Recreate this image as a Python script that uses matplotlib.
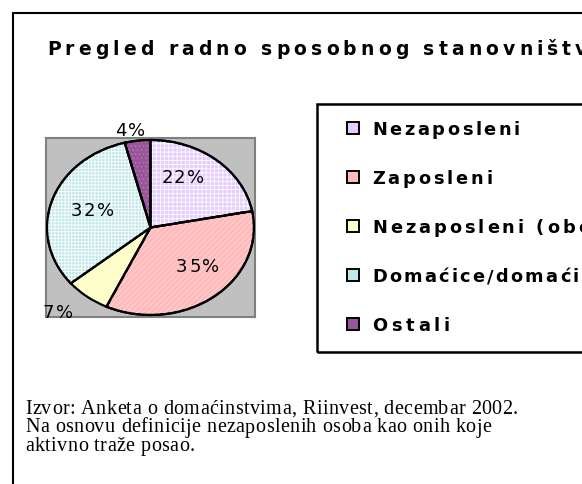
import numpy as np
import matplotlib
matplotlib.use('Agg')
from matplotlib import pyplot as plt
from matplotlib.patches import Rectangle, Wedge
from matplotlib.font_manager import FontProperties, findfont, get_font

W, H, DPI = 582, 485, 100
plt.rcParams['hatch.linewidth'] = 0.6

title = "Pregled radno sposobnog stanovništva"
labels = ["Nezaposleni", "Zaposleni", "Nezaposleni (obeshrabreni)",
          "Domaćice/domaćini", "Ostali"]
shares = [22, 35, 7, 32, 4]
pct_labels = ["22%", "35%", "7%", "32%", "4%"]
footer = ["Izvor: Anketa o domaćinstvima, Riinvest, decembar 2002.",
          "Na osnovu definicije nezaposlenih osoba kao onih koje",
          "aktivno traže posao."]

colors = ['#E6CCFF', '#FFBBBB', '#FFFFCC', '#BFE8E8', '#995599']
hatches = ['++++', '//////', None, '+++++', '....']
hatch_cols = ['white', '#FFD6D6', None, 'white', '#B57AB5']
label_r = [0.66, 0.63, 1.32, 0.6, 1.13]
label_shift = [11.5, 8.5, -5.0, -2.0, 2.7]   # degrees, label nudges

fig = plt.figure(figsize=(W / DPI, H / DPI), dpi=DPI)


def advances(s, prop, size):
    font = get_font(findfont(prop))
    font.set_size(size, DPI)
    return [font.load_char(ord(ch)).linearHoriAdvance / 65536 for ch in s]


def spaced_text(x, y, s, size, spacing, family, weight='normal', ha='left',
                va='baseline', fit=None):
    # x, y in pixels from top-left; draws char by char with extra tracking.
    # fit=(n, px): choose tracking so the first n chars take px pixels
    prop = FontProperties(family=family, weight=weight, size=size)
    adv = advances(s, prop, size)
    if fit is not None:
        n, px = fit
        spacing = (px - sum(adv[:n])) / n
    adv = [a + spacing for a in adv]
    total = sum(adv) - spacing
    pos = x - total / 2 if ha == 'center' else x
    for ch, a in zip(s, adv):
        if pos > W:
            break
        if ch != ' ':
            fig.text(pos / W, 1 - y / H, ch, fontproperties=prop, ha='left', va=va, color='black')
        pos += a


# outer frame (right and bottom edges fall outside the picture)
fig.add_artist(Rectangle((13 / W, -0.1), 2, 1 - 14 / H + 0.1, transform=fig.transFigure,
                         fill=False, edgecolor='black', lw=1.5))

spaced_text(47, 55, title, 13.5, 0, 'DejaVu Sans', weight='bold', fit=(24, 376))

# pie
ax = fig.add_axes([46 / W, 1 - 318 / H, 209 / W, 179 / H])
wedges, _ = ax.pie(shares, colors=colors, startangle=90, counterclock=False,
                   wedgeprops=dict(edgecolor='black', linewidth=1.6))
for w, h, hc in zip(wedges, hatches, hatch_cols):
    if h is None:
        continue
    ax.add_patch(Wedge(w.center, w.r, w.theta1, w.theta2, facecolor='none',
                       edgecolor=hc, lw=0, hatch=h, zorder=2))
    ax.add_patch(Wedge(w.center, w.r, w.theta1, w.theta2, facecolor='none',
                       edgecolor='black', lw=1.6, zorder=3))
ax.set_aspect('auto')
ax.set_xlim(-1.01, 1.01)
ax.set_ylim(-1.023, 1.023)
ax.set_frame_on(True)
ax.set_facecolor('#C0C0C0')
for sp in ax.spines.values():
    sp.set_color('#808080')
    sp.set_linewidth(1.5)

for w, lab, r, sh in zip(wedges, pct_labels, label_r, label_shift):
    mid = np.deg2rad((w.theta1 + w.theta2) / 2 + sh)
    px, py = ax.transData.transform((r * np.cos(mid), r * np.sin(mid)))
    spaced_text(px, H - py, lab, 13, 1.5, 'DejaVu Sans', ha='center', va='center')

# legend
fig.add_artist(Rectangle((317 / W, 1 - 353 / H), 2, (353 - 105) / H, transform=fig.transFigure,
                         fill=False, edgecolor='black', lw=1.8))
for i, (lab, c) in enumerate(zip(labels, colors)):
    yc = 129 + 49 * i
    fig.add_artist(Rectangle((347 / W, 1 - (yc + 6) / H), 12 / W, 12 / H,
                             transform=fig.transFigure, facecolor=c,
                             edgecolor='black', lw=1.4))
    spaced_text(372, yc + 6, lab, 12.8, 0, 'DejaVu Sans', weight='bold',
                fit=(len(lab), 1.03 * 146 * len(lab) / 11))

for i, line in enumerate(footer):
    spaced_text(25, 414 + 18.5 * i, line, 14.5, 0.42, 'Liberation Serif')

fig.savefig('out.png', dpi=DPI)
